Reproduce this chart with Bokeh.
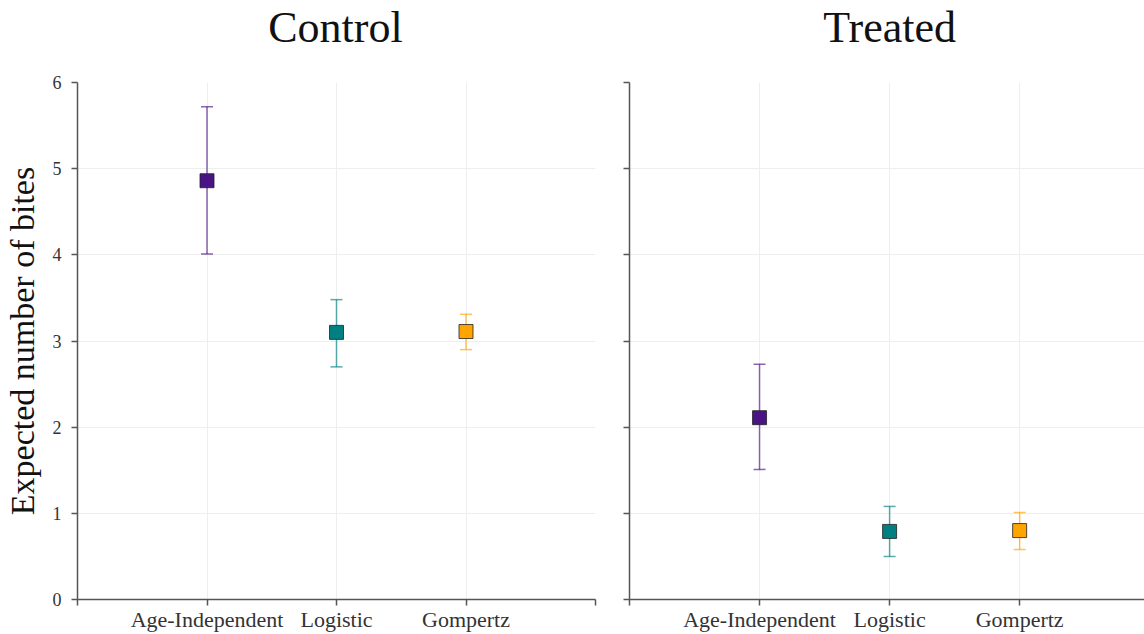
from bokeh.plotting import figure
from bokeh.models import ColumnDataSource, FixedTicker, Range1d, Label
from bokeh.layouts import row, column
from bokeh.embed import file_html
from bokeh.resources import INLINE

models = ["Age-Independent", "Logistic", "Gompertz"]
colors = ["#4a1486", "#008080", "#ffa500"]

control_mean = [4.86, 3.10, 3.11]
control_lower = [4.01, 2.70, 2.90]
control_upper = [5.72, 3.48, 3.31]

treated_mean = [2.11, 0.79, 0.80]
treated_lower = [1.51, 0.50, 0.58]
treated_upper = [2.73, 1.08, 1.01]

y_ticks = [0, 1, 2, 3, 4, 5, 6]
FONT = "Liberation Serif"
TITLE_H = 60


def make_title(title, width, x_end, border_left, border_right):
    t = figure(width=width, height=TITLE_H, x_range=Range1d(0, x_end), y_range=Range1d(0, 1),
               output_backend="svg", toolbar_location=None,
               x_axis_location=None, y_axis_location=None,
               min_border_left=border_left, min_border_right=border_right,
               min_border_top=0, min_border_bottom=0)
    t.outline_line_color = None
    t.xgrid.visible = False
    t.ygrid.visible = False
    t.add_layout(Label(x=2, y=0.55, text=title, text_align="center",
                       text_baseline="middle", text_font=FONT, text_font_size="44px",
                       text_color="#111111"))
    return t


def make_panel(mean, lower, upper, width, x_end, border_left, border_right, show_labels, ylabel):
    xs = list(range(1, len(models) + 1))
    src = ColumnDataSource(dict(x=xs, m=mean, lo=lower, hi=upper, c=colors, name=models))
    p = figure(width=width, height=634 - TITLE_H, x_range=Range1d(0, x_end), y_range=Range1d(0, 6),
               output_backend="svg", toolbar_location=None,
               min_border_left=border_left, min_border_right=border_right,
               min_border_top=82 - TITLE_H, min_border_bottom=35)
    p.outline_line_color = None

    xt = [t for t in [0, 1, 2, 3, 4] if t <= x_end]
    p.xaxis.ticker = FixedTicker(ticks=xt)
    overrides = {0: "", 4: ""}
    for i, mname in enumerate(models):
        overrides[i + 1] = mname
    p.xaxis.major_label_overrides = overrides
    p.yaxis.ticker = FixedTicker(ticks=y_ticks)

    for ax in [p.xaxis[0], p.yaxis[0]]:
        ax.axis_line_color = "#555555"
        ax.axis_line_width = 1.5
        ax.major_tick_line_color = "#555555"
        ax.major_tick_line_width = 1.5
        ax.major_tick_out = 6
        ax.major_tick_in = 0
        ax.minor_tick_line_color = None
        ax.major_label_text_font = FONT
        ax.major_label_text_color = "#333333"
    p.xaxis.major_label_text_font_size = "22px"
    p.xaxis.major_label_standoff = 1
    p.yaxis.major_label_text_font_size = "18px"
    p.yaxis.major_label_standoff = 10
    if not show_labels:
        p.yaxis.major_label_text_font_size = "0px"
        p.yaxis.major_label_text_alpha = 0
        p.yaxis.major_label_standoff = 0
    if ylabel:
        p.yaxis.axis_label = ylabel
        p.yaxis.axis_label_text_font = FONT
        p.yaxis.axis_label_text_font_size = "34px"
        p.yaxis.axis_label_text_font_style = "normal"
        p.yaxis.axis_label_text_color = "#111111"
        p.yaxis.axis_label_standoff = 9

    p.xgrid.grid_line_color = "#eeeeee"
    p.ygrid.grid_line_color = "#eeeeee"

    p.segment(x0="x", y0="lo", x1="x", y1="hi", source=src, line_color="c",
              line_alpha=0.65, line_width=1.5)
    p.scatter(x="x", y="hi", source=src, marker="dash", size=12, line_color="c",
              line_alpha=0.65, line_width=1.5)
    p.scatter(x="x", y="lo", source=src, marker="dash", size=12, line_color="c",
              line_alpha=0.65, line_width=1.5)
    p.scatter(x="x", y="m", source=src, marker="square", size=14, fill_color="c",
              line_color="#222222", line_alpha=0.8, line_width=1)
    return p


t1 = make_title("Control", 612, 4, 75, 17)
t2 = make_title("Treated", 532, 3.96, 17, 0)
p1 = make_panel(control_mean, control_lower, control_upper,
                612, 4, 75, 17, True, "Expected number of bites")
p2 = make_panel(treated_mean, treated_lower, treated_upper,
                532, 3.96, 17, 0, False, None)

layout = column(row(t1, t2), row(p1, p2))
open("out.html", "w").write(file_html(layout, INLINE))
